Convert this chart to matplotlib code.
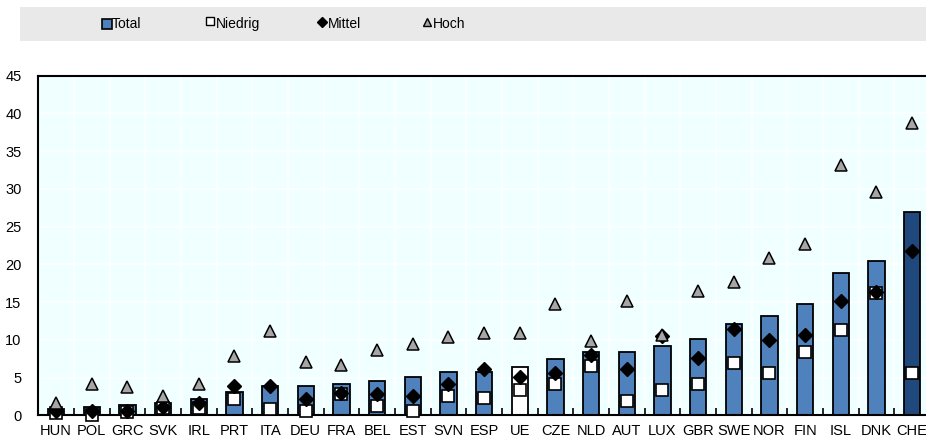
import numpy as np
import matplotlib
matplotlib.use('Agg')
import matplotlib.pyplot as plt
from matplotlib.ticker import MultipleLocator, FixedLocator

plt.rcParams['font.family'] = ['Liberation Sans Narrow', 'Liberation Sans', 'DejaVu Sans']

countries = ['HUN', 'POL', 'GRC', 'SVK', 'IRL', 'PRT', 'ITA', 'DEU', 'FRA', 'BEL', 'EST', 'SVN', 'ESP',
             'UE', 'CZE', 'NLD', 'AUT', 'LUX', 'GBR', 'SWE', 'NOR', 'FIN', 'ISL', 'DNK', 'CHE']
total = [0.8, 1.1, 1.3, 1.6, 2.2, 3.1, 3.9, 3.9, 4.2, 4.6, 5.1, 5.7, 5.7,
         6.4, 7.5, 8.35, 8.35, 9.2, 10.1, 12.1, 13.2, 14.7, 18.9, 20.4, 27.0]
niedrig = [0.35, 0.0, 0.5, 1.0, 1.0, 2.1, 0.8, 0.6, 2.8, 1.2, 0.6, 2.6, 2.3,
           3.4, 4.1, 6.5, 1.9, 3.4, 4.2, 6.9, 5.6, 8.4, 11.3, 16.2, 5.6]
mittel = [0.6, 0.6, 0.6, 1.15, 1.6, 3.9, 3.9, 2.1, 3.0, 2.8, 2.6, 4.2, 6.2,
          5.1, 5.6, 8.0, 6.2, 10.5, 7.55, 11.5, 10.0, 10.6, 15.1, 16.4, 21.8]
hoch = [1.6, 4.2, 3.7, 2.5, 4.2, 7.8, 11.2, 7.1, 6.7, 8.7, 9.5, 10.4, 10.9,
        10.9, 14.8, 9.8, 15.2, 10.6, 16.5, 17.6, 20.9, 22.7, 33.2, 29.6, 38.7]

blue = '#4F81BD'
dark = '#1F497D'
tri_grey = '#A6A6A6'

W, H = 926, 436
fig = plt.figure(figsize=(W / 100, H / 100), dpi=100)

# main plot area
left, right, top, bottom = 38.2, 930.0, 75.7, 415.3
ax = fig.add_axes([left / W, 1 - bottom / H, (right - left) / W, (bottom - top) / H])
ax.set_facecolor('#F0FFFF')

x = np.arange(len(countries))
bar_colors = []
for c in countries:
    if c == 'UE':
        bar_colors.append('white')
    elif c == 'CHE':
        bar_colors.append(dark)
    else:
        bar_colors.append(blue)

ax.bar(x, total, width=0.46, color=bar_colors, edgecolor='black', linewidth=1.3, zorder=2)
ax.plot(x, niedrig, ls='none', marker='s', ms=8, mfc='white', mec='black', mew=1.2, zorder=3, clip_on=False)
ax.plot(x, mittel, ls='none', marker='D', ms=7.5, mfc='black', mec='black', zorder=4, clip_on=False)
ax.plot(x, hoch, ls='none', marker='^', ms=9, mfc=tri_grey, mec='black', mew=1.1, zorder=5, clip_on=False)

ax.set_xlim(-0.5, len(countries) - 0.5)
ax.set_ylim(0, 45)
ax.yaxis.set_major_locator(MultipleLocator(5))
ax.set_xticks(x)
ax.set_xticklabels(countries, fontsize=10.5)
ax.tick_params(axis='x', which='major', length=0, pad=6)
ax.xaxis.set_minor_locator(FixedLocator(np.arange(0.5, len(countries) - 1, 1)))
ax.tick_params(axis='x', which='minor', direction='in', length=5, width=1.2, color='black')
ax.tick_params(axis='y', length=0, labelsize=10.5, pad=12)

ax.grid(True, which='minor', axis='x', color='white', lw=1.2, zorder=0)
ax.grid(True, which='major', axis='y', color='white', lw=1.2, zorder=0)
ax.set_axisbelow(True)
for s in ['left', 'bottom', 'top']:
    ax.spines[s].set_linewidth(1.5)
    ax.spines[s].set_color('black')
ax.spines['right'].set_visible(False)

# legend band
lax = fig.add_axes([20 / W, 1 - 41 / H, (W - 20) / W, 34 / H])
lax.set_facecolor('#E9E9E9')
lax.set_xlim(20, W)
lax.set_ylim(0, 1)
lax.set_xticks([])
lax.set_yticks([])
for s in lax.spines.values():
    s.set_visible(False)

lax.plot([107], [0.5], marker='s', ms=7, mfc=blue, mec='black', mew=1.2)
lax.text(112, 0.5, 'Total', va='center', ha='left', fontsize=10)
lax.plot([210], [0.6], marker='s', ms=5.5, mfc='white', mec='black', mew=1.0)
lax.text(216, 0.5, 'Niedrig', va='center', ha='left', fontsize=10)
lax.plot([322], [0.55], marker='D', ms=5, mfc='black', mec='black')
lax.text(328, 0.5, 'Mittel', va='center', ha='left', fontsize=10)
lax.plot([427], [0.55], marker='^', ms=5.5, mfc=tri_grey, mec='black', mew=1.0)
lax.text(433, 0.5, 'Hoch', va='center', ha='left', fontsize=10)

fig.savefig('out.png', dpi=100)
